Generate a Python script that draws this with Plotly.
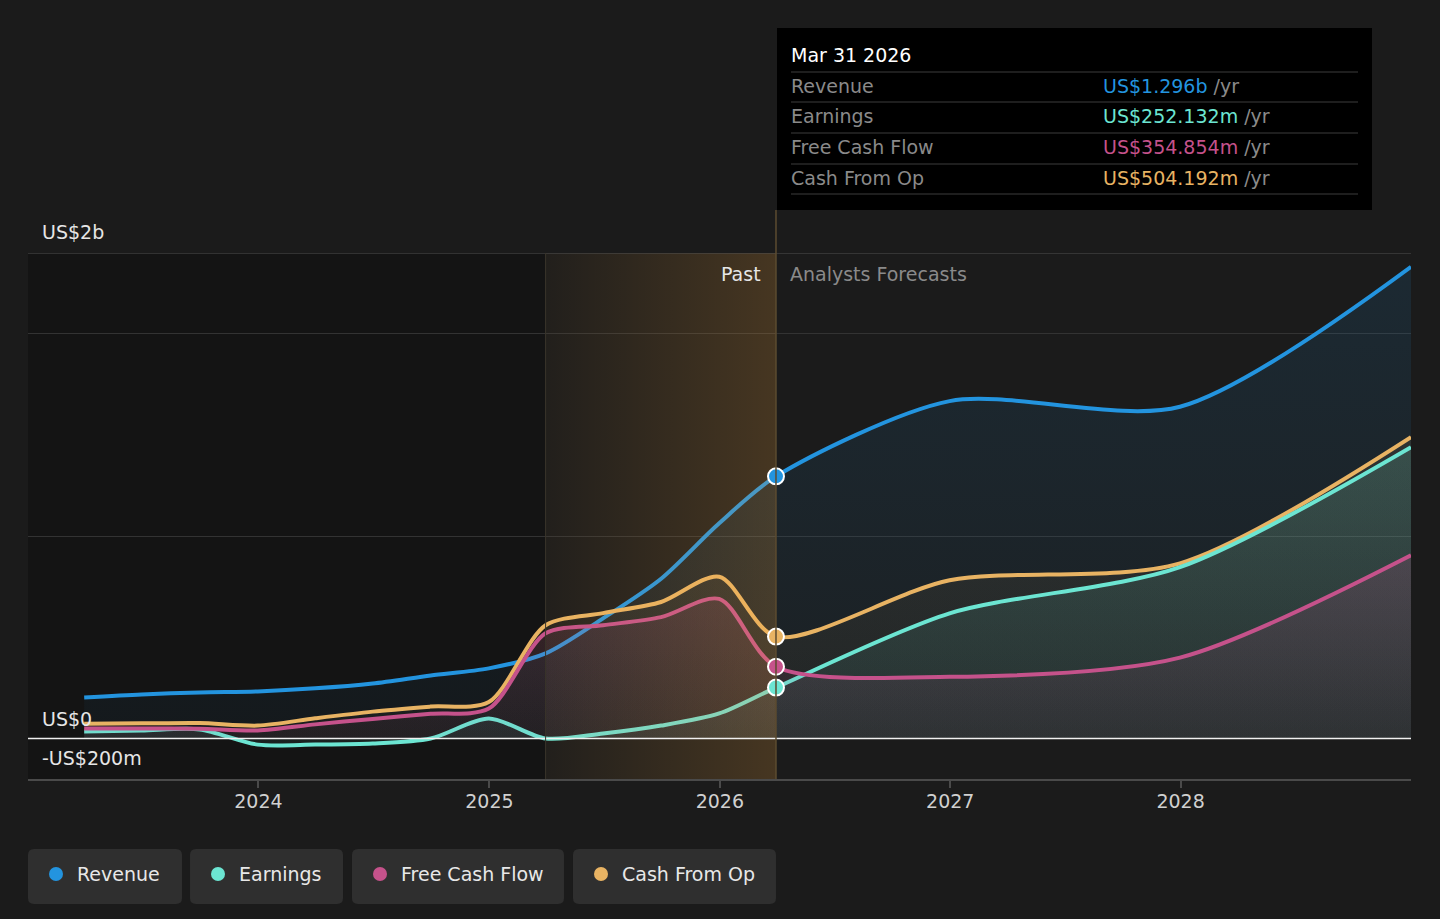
import plotly.graph_objects as go

# quarterly history + analyst forecast points (US$ billions)
past_dates = ['2023-03-31', '2023-06-30', '2023-09-30', '2023-12-31',
              '2024-03-31', '2024-06-30', '2024-09-30', '2024-12-31',
              '2025-03-31', '2025-06-30', '2025-09-30', '2025-12-31',
              '2026-03-31']
forecast_dates = ['2026-12-31', '2027-12-31', '2028-12-31']

revenue_past = [0.203, 0.218, 0.228, 0.233, 0.248, 0.272, 0.312, 0.347, 0.421, 0.594, 0.790, 1.064, 1.296]
revenue_fc = [1.668, 1.640, 2.332]
earnings_past = [0.035, 0.040, 0.045, -0.030, -0.030, -0.025, 0.000, 0.099, 0.000, 0.025, 0.064, 0.124, 0.252]
earnings_fc = [0.619, 0.847, 1.440]
fcf_past = [0.050, 0.050, 0.048, 0.040, 0.070, 0.097, 0.122, 0.148, 0.520, 0.560, 0.600, 0.690, 0.355]
fcf_fc = [0.305, 0.400, 0.906]
cfo_past = [0.073, 0.075, 0.077, 0.064, 0.100, 0.133, 0.158, 0.180, 0.560, 0.620, 0.675, 0.800, 0.504]
cfo_fc = [0.782, 0.866, 1.490]

series_names = ['Revenue', 'Earnings', 'Free Cash Flow', 'Cash From Op']
tooltip_date = 'Mar 31 2026'
tooltip_values = ['US$1.296b', 'US$252.132m', 'US$354.854m', 'US$504.192m']

year_ticks = ['2024-01-01', '2025-01-01', '2026-01-01', '2027-01-01', '2028-01-01']
year_labels = ['2024', '2025', '2026', '2027', '2028']

past_start = '2025-03-31'
now_date = '2026-03-31'

colors = {'Revenue': '#2394df', 'Earnings': '#6ce5d2',
          'Free Cash Flow': '#c5528b', 'Cash From Op': '#e8b363'}
rgb = {'Revenue': '35,148,223', 'Earnings': '108,229,210',
       'Free Cash Flow': '197,82,139', 'Cash From Op': '232,179,99'}
alphas = {'Revenue': (0.04, 0.12), 'Earnings': (0.06, 0.16),
          'Free Cash Flow': (0.05, 0.18), 'Cash From Op': (0.03, 0.09)}

BG = '#1b1b1b'
FONT = 'DejaVu Sans'
L, R, T, B = 28, 1411, 253, 779   # plot area in pixels


def px(x):
    return (x - L) / (R - L)


def py(y):
    return (B - y) / (B - T)


data = {
    'Revenue': revenue_past + revenue_fc,
    'Earnings': earnings_past + earnings_fc,
    'Free Cash Flow': fcf_past + fcf_fc,
    'Cash From Op': cfo_past + cfo_fc,
}
dates = past_dates + forecast_dates

fig = go.Figure()

for name in ['Revenue', 'Cash From Op', 'Earnings', 'Free Cash Flow']:
    a0, a1 = alphas[name]
    fig.add_trace(go.Scatter(
        x=dates, y=data[name], mode='lines', name=name,
        line=dict(color=colors[name], width=4, shape='spline', smoothing=0.8),
        fill='tozeroy',
        fillgradient=dict(type='vertical', start=0, stop=max(data[name]),
                          colorscale=[[0, f'rgba({rgb[name]},{a0})'], [1, f'rgba({rgb[name]},{a1})']]),
        hoverinfo='skip'))

# orange "past" band drawn over the lines
fig.add_trace(go.Scatter(
    x=[past_start, now_date, now_date, past_start, past_start],
    y=[-0.2, -0.2, 2.4, 2.4, -0.2], mode='lines', line=dict(width=0),
    fill='toself',
    fillgradient=dict(type='horizontal',
                      colorscale=[[0, 'rgba(255,170,60,0.03)'], [1, 'rgba(255,170,60,0.19)']]),
    hoverinfo='skip'))

# points at the latest reported date
fig.add_trace(go.Scatter(
    x=[now_date] * 4, y=[data[n][len(past_dates) - 1] for n in series_names],
    mode='markers', hoverinfo='skip',
    marker=dict(size=16, color=[colors[n] for n in series_names], line=dict(color='white', width=2))))

shapes = [
    # darker region before the past band
    dict(type='rect', xref='x', yref='paper', x0='2022-12-01', x1=past_start, y0=0, y1=1,
         fillcolor='#141414', line=dict(width=0), layer='below'),
    dict(type='line', xref='paper', yref='y', x0=0, x1=1, y0=2.4, y1=2.4,
         line=dict(color='#505050', width=1)),
    dict(type='line', xref='paper', yref='y', x0=0, x1=1, y0=0, y1=0,
         line=dict(color='#f0f0f0', width=1.5)),
    dict(type='line', xref='x', yref='paper', x0=past_start, x1=past_start, y0=0, y1=1,
         line=dict(color='#3a342b', width=1)),
    dict(type='line', xref='x', yref='paper', x0=now_date, x1=now_date, y0=0, y1=py(210),
         line=dict(color='#5c4b30', width=1.5)),
    # tooltip box
    dict(type='rect', xref='paper', yref='paper', x0=px(777), x1=px(1372), y0=py(210), y1=py(28),
         fillcolor='#000000', line=dict(width=0)),
]
for yy in [72, 102, 133, 164, 194]:
    shapes.append(dict(type='line', xref='paper', yref='paper', x0=px(791), x1=px(1358),
                       y0=py(yy), y1=py(yy), line=dict(color='#3c3c3c', width=1)))

annotations = [
    dict(text='US$2b', xref='paper', yref='y', x=px(40), y=2.4, yshift=21),
    dict(text='US$0', xref='paper', yref='y', x=px(40), y=0, yshift=20),
    dict(text='-US$200m', xref='paper', yref='y', x=px(40), y=-0.2, yshift=21),
]
for a in annotations:
    a.update(xanchor='left', yanchor='middle', showarrow=False,
             font=dict(family=FONT, size=19, color='#e6e6e6'))

annotations += [
    dict(text='Past', xref='x', yref='y', x=now_date, y=2.4, xanchor='right', yanchor='middle',
         xshift=-13, yshift=-21, showarrow=False, font=dict(family=FONT, size=19, color='#e6e6e6')),
    dict(text='Analysts Forecasts', xref='x', yref='y', x=now_date, y=2.4, xanchor='left',
         yanchor='middle', xshift=12, yshift=-21, showarrow=False,
         font=dict(family=FONT, size=19, color='#8a8a8a')),
    dict(text=tooltip_date, xref='paper', yref='paper', x=px(789), y=py(55), xanchor='left',
         yanchor='middle', showarrow=False, font=dict(family=FONT, size=19, color='#ffffff')),
]
for i, (name, val) in enumerate(zip(series_names, tooltip_values)):
    yc = [86, 116, 147, 178][i]
    annotations.append(dict(text=name, xref='paper', yref='paper', x=px(789), y=py(yc),
                            xanchor='left', yanchor='middle', showarrow=False,
                            font=dict(family=FONT, size=19, color='#8a8a8a')))
    annotations.append(dict(text=f'<span style="color:{colors[name]}">{val}</span> /yr',
                            xref='paper', yref='paper', x=px(1101), y=py(yc),
                            xanchor='left', yanchor='middle', showarrow=False,
                            font=dict(family=FONT, size=19, color='#8a8a8a')))

# legend buttons
boxes = [(28, 182), (190, 343), (352, 564), (573, 776)]
for name, (x0, x1) in zip(series_names, boxes):
    r = 6
    ya, yb = 849, 904
    path = (f'M {x0 + r},{ya} L {x1 - r},{ya} Q {x1},{ya} {x1},{ya + r} L {x1},{yb - r} '
            f'Q {x1},{yb} {x1 - r},{yb} L {x0 + r},{yb} Q {x0},{yb} {x0},{yb - r} '
            f'L {x0},{ya + r} Q {x0},{ya} {x0 + r},{ya} Z')
    # convert pixel path to paper coordinates
    parts = []
    for tok in path.split(' '):
        if ',' in tok:
            a, b = tok.split(',')
            parts.append(f'{px(float(a)):.5f},{py(float(b)):.5f}')
        else:
            parts.append(tok)
    shapes.append(dict(type='path', xref='paper', yref='paper', path=' '.join(parts),
                       fillcolor='#2f2f2f', line=dict(width=0)))
    cx, cy, rad = x0 + 28, 874, 7
    shapes.append(dict(type='circle', xref='paper', yref='paper',
                       x0=px(cx - rad), x1=px(cx + rad), y0=py(cy + rad), y1=py(cy - rad),
                       fillcolor=colors[name], line=dict(width=0)))
    annotations.append(dict(text=name, xref='paper', yref='paper', x=px(x0 + 47), y=py(874),
                            xanchor='left', yanchor='middle', showarrow=False,
                            font=dict(family=FONT, size=19, color='#e8e8e8')))

fig.update_layout(
    width=1440, height=919,
    margin=dict(l=L, r=1440 - R, t=T, b=919 - B),
    paper_bgcolor=BG, plot_bgcolor=BG,
    showlegend=False,
    font=dict(family=FONT, color='#cccccc'),
    shapes=shapes, annotations=annotations,
    xaxis=dict(range=['2023-01-01', '2028-12-31'], tickvals=year_ticks, ticktext=year_labels,
               showgrid=False, zeroline=False, showline=True, linecolor='#4a4a4a', linewidth=1.5,
               ticks='outside', tickcolor='#4a4a4a', ticklen=7, tickwidth=1.5,
               ticklabelstandoff=-3,
               tickfont=dict(family=FONT, size=19, color='#d0d0d0')),
    yaxis=dict(range=[-0.2, 2.4], tickvals=[1, 2], showticklabels=False, showgrid=True,
               gridcolor='#333333', gridwidth=1, zeroline=False),
)

# page has a default body margin; remove it so the figure fills the window
fig.write_html('out.html', config={'displayModeBar': False},
               post_script="document.body.style.margin='0';document.body.style.background='#1b1b1b';")
